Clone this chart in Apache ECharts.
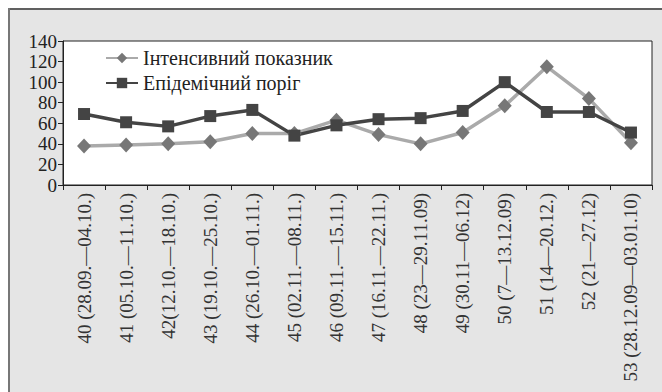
<!DOCTYPE html>
<html>
<head>
<meta charset="utf-8">
<script src="https://cdn.jsdelivr.net/npm/echarts@6/dist/echarts.min.js"></script>
<style>
  html, body { margin: 0; padding: 0; background: #fff; }
  #chart { width: 662px; height: 392px; }
</style>
</head>
<body>
<div id="chart"></div>
<script>
// weeks of the epidemic season
const weeks = [
  '40 (28.09.—04.10.)', '41 (05.10.—11.10.)', '42(12.10.—18.10.)', '43 (19.10.—25.10.)',
  '44 (26.10.—01.11.)', '45 (02.11.—08.11.)', '46 (09.11.—15.11.)', '47 (16.11.—22.11.)',
  '48 (23—29.11.09)', '49 (30.11—06.12)', '50 (7—13.12.09)', '51 (14—20.12.)',
  '52 (21—27.12)', '53 (28.12.09—03.01.10)'
];
const intensity = [38, 39, 40, 42, 50, 50, 63, 49, 40, 51, 77, 115, 84, 41];
const threshold = [69, 61, 57, 67, 73, 48, 58, 64, 65, 72, 100, 71, 71, 51];
const yTicks = { min: 0, max: 140, step: 20 };

const serif = "'Liberation Serif', 'Times New Roman', serif";

const chart = echarts.init(document.getElementById('chart'), null, { renderer: 'svg' });
chart.setOption({
  animation: false,
  textStyle: { fontFamily: serif },
  graphic: [
    { type: 'rect', z: -10, shape: { x: 8, y: 8, width: 660, height: 390 }, style: { fill: '#e5e5e5' } },
    { type: 'line', z: -9, shape: { x1: 8, y1: 9, x2: 662, y2: 9 }, style: { stroke: '#333', lineWidth: 1.5 } },
    { type: 'line', z: -9, shape: { x1: 9, y1: 8, x2: 9, y2: 392 }, style: { stroke: '#777', lineWidth: 2 } }
  ],
  grid: {
    left: 63, right: 10, top: 41, bottom: 207,
    show: true, backgroundColor: '#fff', borderColor: '#222', borderWidth: 1
  },
  legend: {
    orient: 'vertical', left: 100, top: 43, itemGap: 5,
    itemWidth: 32, itemHeight: 13,
    textStyle: { fontFamily: serif, fontSize: 20, color: '#222' },
    data: ['Інтенсивний показник', 'Епідемічний поріг']
  },
  xAxis: {
    type: 'category', data: weeks, boundaryGap: true,
    axisLine: { lineStyle: { color: '#222', width: 1 } },
    axisTick: { show: true, length: 5, lineStyle: { color: '#222' } },
    axisLabel: { rotate: 90, interval: 0, margin: 8, fontFamily: serif, fontSize: 19, color: '#333' }
  },
  yAxis: {
    type: 'value', min: yTicks.min, max: yTicks.max, interval: yTicks.step,
    splitLine: { show: false },
    axisLine: { show: true, lineStyle: { color: '#222', width: 1 } },
    axisTick: { show: true, length: 5, lineStyle: { color: '#222' } },
    axisLabel: { margin: 6, fontFamily: serif, fontSize: 19, color: '#222' }
  },
  series: [
    {
      name: 'Інтенсивний показник', type: 'line', data: intensity,
      symbol: 'diamond', symbolSize: [14, 15],
      lineStyle: { color: '#aaa', width: 3.5 },
      itemStyle: { color: '#777' }
    },
    {
      name: 'Епідемічний поріг', type: 'line', data: threshold,
      symbol: 'rect', symbolSize: 12,
      lineStyle: { color: '#444', width: 3.5 },
      itemStyle: { color: '#444' }
    }
  ]
});
</script>
</body>
</html>
